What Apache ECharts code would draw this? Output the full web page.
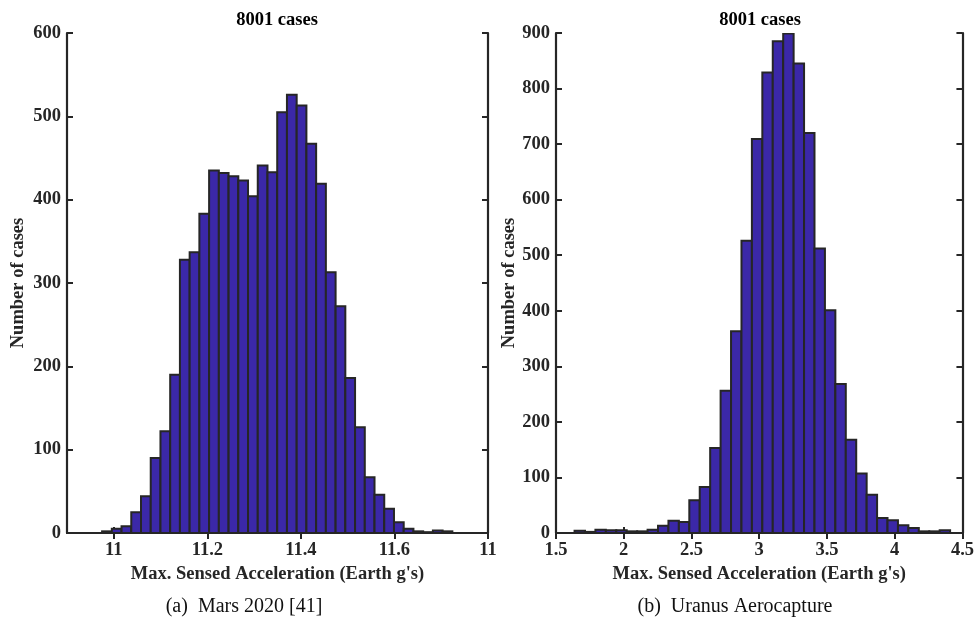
<!DOCTYPE html>
<html>
<head>
<meta charset="utf-8">
<script src="https://cdn.jsdelivr.net/npm/echarts@6/dist/echarts.min.js"></script>
<style>
html, body { margin: 0; padding: 0; background: #fff; }
#histCases { width: 977px; height: 619px; }
</style>
</head>
<body>
<div id="histCases"></div>
<script>
// (a) Mars 2020 - histogram bins
var marsBinStart = 10.975
var marsBinWidth = 0.0208
var marsCounts = [2, 5, 8, 25, 44, 90, 122, 190, 328, 337, 383, 435, 432, 428, 423, 404, 441, 433,
  505, 526, 513, 467, 419, 313, 272, 186, 127, 67, 46, 29, 13, 5, 2, 1, 3, 2]
var marsTicks = [11, 11.2, 11.4, 11.6, 11.8]
var marsTickLabels = ['11', '11.2', '11.4', '11.6', '11']

// (b) Uranus aerocapture
var uranusBinStart = 1.637
var uranusBinWidth = 0.077
var uranusCounts = [4, 2, 6, 5, 5, 3, 3, 6, 13, 22, 20, 59, 83, 153, 256, 363, 526, 709,
  829, 885, 899, 845, 720, 512, 401, 268, 168, 107, 69, 27, 23, 14, 9, 3, 3, 5]

var panelTitle = '8001 cases'
var xName = "Max. Sensed Acceleration (Earth g's)"
var yName = 'Number of cases'
var captions = ['(a)  Mars 2020 [41]', '(b)  Uranus Aerocapture']

var font = "'Liberation Serif', 'Times New Roman', serif"
var ink = '#262626'
var barFill = '#3b28a8'
var fs = 18.5

function toBins(start, width, counts) {
  return counts.map(function (c, i) {
    return [start + i * width, start + (i + 1) * width, c]
  })
}

function renderBin(params, api) {
  var p0 = api.coord([api.value(0), api.value(2)])
  var p1 = api.coord([api.value(1), 0])
  return {
    type: 'rect',
    shape: {x: p0[0], y: p0[1], width: p1[0] - p0[0], height: p1[1] - p0[1]},
    style: {fill: barFill, stroke: ink, lineWidth: 2}
  }
}

function baseX(grid, min, max, extra) {
  var ax = {
    type: 'value',
    gridIndex: grid,
    min: min,
    max: max,
    position: 'bottom',
    splitLine: {show: false},
    axisLine: {lineStyle: {color: ink, width: 2.2}},
    axisTick: {inside: true, length: 6, lineStyle: {color: ink, width: 2}},
    axisLabel: {
      color: ink, fontFamily: font, fontWeight: 'bold', fontSize: fs, margin: 8,
      showMinLabel: true, showMaxLabel: true
    },
    name: xName,
    nameLocation: 'middle',
    nameGap: 32,
    nameTextStyle: {color: ink, fontFamily: font, fontWeight: 'bold', fontSize: fs}
  }
  return Object.assign(ax, extra || {})
}

function mirrorX(grid, min, max, extra) {
  var ax = {
    type: 'value',
    gridIndex: grid,
    min: min,
    max: max,
    position: 'top',
    splitLine: {show: false},
    axisLine: {lineStyle: {color: ink, width: 2.2}},
    axisTick: {inside: true, length: 6, lineStyle: {color: ink, width: 2}},
    axisLabel: {show: false}
  }
  return Object.assign(ax, extra || {})
}

function baseY(grid, max, gap) {
  return {
    type: 'value',
    gridIndex: grid,
    min: 0,
    max: max,
    interval: 100,
    position: 'left',
    splitLine: {show: false},
    axisLine: {show: true, lineStyle: {color: ink, width: 2.2}},
    axisTick: {show: true, inside: true, length: 6, lineStyle: {color: ink, width: 2}},
    axisLabel: {color: ink, fontFamily: font, fontWeight: 'bold', fontSize: fs, margin: 6},
    name: yName,
    nameLocation: 'middle',
    nameGap: gap,
    nameTextStyle: {color: ink, fontFamily: font, fontWeight: 'bold', fontSize: fs}
  }
}

function mirrorY(grid, max) {
  return {
    type: 'value',
    gridIndex: grid,
    min: 0,
    max: max,
    interval: 100,
    position: 'right',
    splitLine: {show: false},
    axisLine: {show: true, lineStyle: {color: ink, width: 2.2}},
    axisTick: {show: true, inside: true, length: 6, lineStyle: {color: ink, width: 2}},
    axisLabel: {show: false}
  }
}

var chart = echarts.init(document.getElementById('histCases'), null, {renderer: 'canvas'})

var option = {
  backgroundColor: '#fff',
  animation: false,
  title: [
    {text: panelTitle, left: 277, top: 11, textAlign: 'center', padding: 0,
      textStyle: {color: '#000', fontFamily: font, fontWeight: 'bold', fontSize: fs}},
    {text: panelTitle, left: 760, top: 11, textAlign: 'center', padding: 0,
      textStyle: {color: '#000', fontFamily: font, fontWeight: 'bold', fontSize: fs}}
  ],
  grid: [
    {left: 67, right: 489, top: 33, bottom: 86},
    {left: 556, right: 12, top: 33, bottom: 86}
  ],
  xAxis: [
    baseX(0, 10.9, 11.8, {
      axisLabel: {
        color: ink, fontFamily: font, fontWeight: 'bold', fontSize: fs, margin: 8,
        customValues: marsTicks,
        formatter: function (v) {
          var i = marsTicks.findIndex(function (t) { return Math.abs(t - v) < 1e-6 })
          return i >= 0 ? marsTickLabels[i] : ''
        }
      },
      axisTick: {inside: true, length: 6, customValues: marsTicks, lineStyle: {color: ink, width: 2}}
    }),
    mirrorX(0, 10.9, 11.8, {
      axisTick: {inside: true, length: 6, customValues: marsTicks, lineStyle: {color: ink, width: 2}}
    }),
    baseX(1, 1.5, 4.5, {interval: 0.5}),
    mirrorX(1, 1.5, 4.5, {interval: 0.5})
  ],
  yAxis: [
    baseY(0, 600, 39),
    mirrorY(0, 600),
    baseY(1, 900, 37),
    mirrorY(1, 900)
  ],
  series: [
    {
      type: 'custom',
      xAxisIndex: 0,
      yAxisIndex: 0,
      clip: true,
      renderItem: renderBin,
      data: toBins(marsBinStart, marsBinWidth, marsCounts)
    },
    {
      type: 'custom',
      xAxisIndex: 2,
      yAxisIndex: 2,
      clip: true,
      renderItem: renderBin,
      data: toBins(uranusBinStart, uranusBinWidth, uranusCounts)
    }
  ],
  graphic: [
    {type: 'text', x: 244, y: 607, style: {text: captions[0], fill: '#111', font: '20px ' + font,
      textAlign: 'center', textVerticalAlign: 'middle'}},
    {type: 'text', x: 735, y: 607, style: {text: captions[1], fill: '#111', font: '20px ' + font,
      textAlign: 'center', textVerticalAlign: 'middle'}}
  ]
}

chart.setOption(option)
</script>
</body>
</html>
